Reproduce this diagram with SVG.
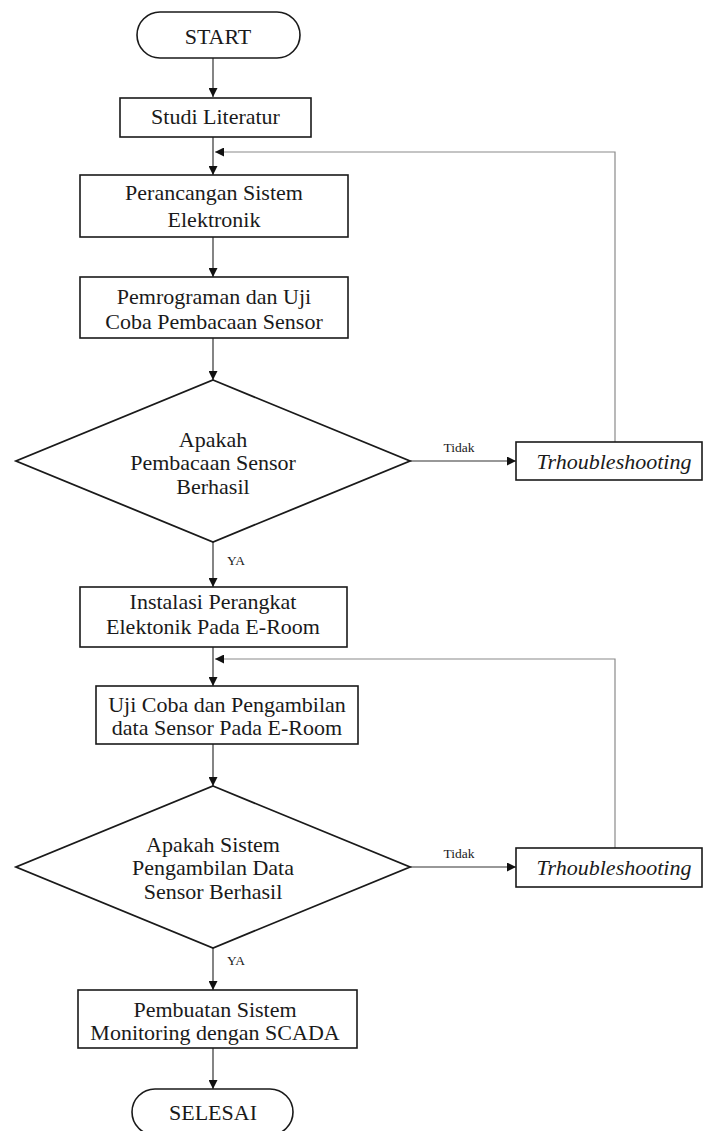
<svg xmlns="http://www.w3.org/2000/svg" width="705" height="1131" viewBox="0 0 705 1131">
<style>
.box{fill:#fff;stroke:#1a1a1a;stroke-width:1.6}
.dia{fill:#fff;stroke:#1a1a1a;stroke-width:1.8}
.t{font-family:"Liberation Serif","Times New Roman",serif;font-size:22px;fill:#1a1a1a;text-anchor:middle}
.it{font-style:italic}
.lbl{font-family:"Liberation Serif","Times New Roman",serif;font-size:13.5px;fill:#1a1a1a}
.c{fill:none;stroke:#333;stroke-width:1.2}
.fb{fill:none;stroke:#8a8a8a;stroke-width:1.2}
</style>
<defs>
<marker id="arr" viewBox="0 0 10 10" refX="10" refY="5" markerWidth="9" markerHeight="9" markerUnits="userSpaceOnUse" orient="auto">
<path d="M0,0 L10,5 L0,10 z" fill="#111"/>
</marker>
</defs>
<rect width="705" height="1131" fill="#fff"/>
<g id="connectors">
<line class="c" x1="213" y1="58" x2="213" y2="97" marker-end="url(#arr)"/>
<line class="c" x1="213" y1="137" x2="213" y2="175" marker-end="url(#arr)"/>
<polyline class="fb" points="615,442 615,152 215,152" marker-end="url(#arr)"/>
<line class="c" x1="213" y1="237" x2="213" y2="277" marker-end="url(#arr)"/>
<line class="c" x1="213" y1="338" x2="213" y2="380" marker-end="url(#arr)"/>
<line class="c" x1="410" y1="461" x2="516" y2="461" marker-end="url(#arr)"/>
<text class="lbl" x="459" y="452" text-anchor="middle">Tidak</text>
<line class="c" x1="213" y1="542" x2="213" y2="587" marker-end="url(#arr)"/>
<text class="lbl" x="227" y="565">YA</text>
<line class="c" x1="213" y1="647" x2="213" y2="686" marker-end="url(#arr)"/>
<polyline class="fb" points="615,848 615,659 215,659" marker-end="url(#arr)"/>
<line class="c" x1="213" y1="744" x2="213" y2="786" marker-end="url(#arr)"/>
<line class="c" x1="410" y1="867" x2="516" y2="867" marker-end="url(#arr)"/>
<text class="lbl" x="459" y="858" text-anchor="middle">Tidak</text>
<line class="c" x1="213" y1="948" x2="213" y2="990" marker-end="url(#arr)"/>
<text class="lbl" x="227" y="965">YA</text>
<line class="c" x1="213" y1="1048" x2="213" y2="1089" marker-end="url(#arr)"/>
</g>
<g id="start">
<rect class="box" x="137" y="12" width="163" height="46" rx="23"/>
<text class="t" x="218" y="44">START</text>
</g>
<g id="studi">
<rect class="box" x="120" y="98" width="191" height="39"/>
<text class="t" x="215.5" y="124">Studi Literatur</text>
</g>
<g id="perancangan">
<rect class="box" x="80" y="175" width="268" height="62"/>
<text class="t" x="214" y="200">Perancangan Sistem</text>
<text class="t" x="214" y="227">Elektronik</text>
</g>
<g id="pemrograman">
<rect class="box" x="80" y="277" width="268" height="61"/>
<text class="t" x="214" y="304">Pemrograman dan Uji</text>
<text class="t" x="214" y="329">Coba Pembacaan Sensor</text>
</g>
<g id="decision1">
<polygon class="dia" points="213,380 410,461 213,542 16,461"/>
<text class="t" x="213" y="447">Apakah</text>
<text class="t" x="213" y="470">Pembacaan Sensor</text>
<text class="t" x="213" y="494">Berhasil</text>
</g>
<g id="troubleshoot1">
<rect class="box" x="516" y="442" width="186" height="38"/>
<text class="t it" x="614" y="469">Trhoubleshooting</text>
</g>
<g id="instalasi">
<rect class="box" x="80" y="587" width="267" height="60"/>
<text class="t" x="213" y="609">Instalasi Perangkat</text>
<text class="t" x="213" y="634">Elektonik Pada E-Room</text>
</g>
<g id="ujicoba">
<rect class="box" x="96" y="686" width="262" height="58"/>
<text class="t" x="227" y="712">Uji Coba dan Pengambilan</text>
<text class="t" x="227" y="735">data Sensor Pada E-Room</text>
</g>
<g id="decision2">
<polygon class="dia" points="213,786 410,867 213,948 16,867"/>
<text class="t" x="213" y="852">Apakah Sistem</text>
<text class="t" x="213" y="875">Pengambilan Data</text>
<text class="t" x="213" y="899">Sensor Berhasil</text>
</g>
<g id="troubleshoot2">
<rect class="box" x="516" y="848" width="186" height="39"/>
<text class="t it" x="614" y="875">Trhoubleshooting</text>
</g>
<g id="pembuatan">
<rect class="box" x="78" y="990" width="279" height="58"/>
<text class="t" x="215" y="1017">Pembuatan Sistem</text>
<text class="t" x="215" y="1040">Monitoring dengan SCADA</text>
</g>
<g id="selesai">
<rect class="box" x="132" y="1089" width="161" height="46" rx="23"/>
<text class="t" x="213" y="1120">SELESAI</text>
</g>
</svg>
